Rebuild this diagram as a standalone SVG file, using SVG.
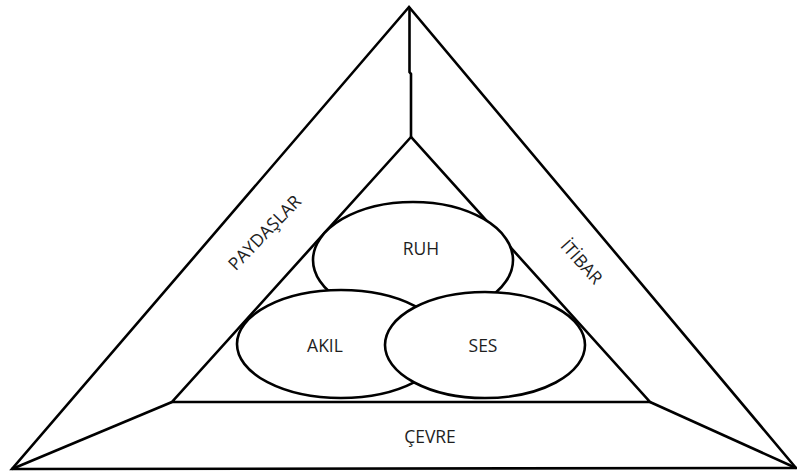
<svg xmlns="http://www.w3.org/2000/svg" width="797" height="473" viewBox="0 0 797 473">
  <style>
    .edge { fill: none; stroke: #000; stroke-width: 2.6; stroke-linejoin: miter; }
    .circ { fill: #fff; stroke: #000; stroke-width: 2.6; }
    .lbl { font-family: "Open Sans", "Liberation Sans", sans-serif; font-size: 17.5px; fill: #1e1e1e; text-anchor: middle; }
  </style>
  <rect width="797" height="473" fill="#fff"/>

  <!-- frame: outer and inner triangles -->
  <g id="outer-triangle">
    <polygon class="edge" points="409,7 12,469 796,468"/>
  </g>
  <g id="inner-triangle">
    <polygon class="edge" points="411,137 172,402 650,402"/>
  </g>

  <!-- connectors between the triangle corners -->
  <g id="connectors">
    <polyline class="edge" points="409.5,7 409.5,72 411,74 411,137"/>
    <line class="edge" x1="12" y1="469" x2="172" y2="402"/>
    <line class="edge" x1="796" y1="468" x2="650" y2="402"/>
  </g>

  <!-- side labels -->
  <g id="paydaslar">
    <text class="lbl" transform="translate(269,237) rotate(-46)">PAYDAŞLAR</text>
  </g>
  <g id="itibar">
    <text class="lbl" transform="translate(577,266) rotate(48)">İTİBAR</text>
  </g>
  <g id="cevre">
    <text class="lbl" x="430" y="443">ÇEVRE</text>
  </g>

  <!-- three overlapping ellipses -->
  <g id="ruh">
    <ellipse class="circ" cx="413" cy="260" rx="100" ry="58"/>
    <text class="lbl" x="421" y="255">RUH</text>
  </g>
  <g id="akil">
    <ellipse class="circ" cx="341" cy="344" rx="104" ry="54"/>
    <text class="lbl" x="325" y="352">AKIL</text>
  </g>
  <g id="ses">
    <ellipse class="circ" cx="485" cy="345" rx="100" ry="53"/>
    <text class="lbl" x="483" y="352">SES</text>
  </g>
</svg>
